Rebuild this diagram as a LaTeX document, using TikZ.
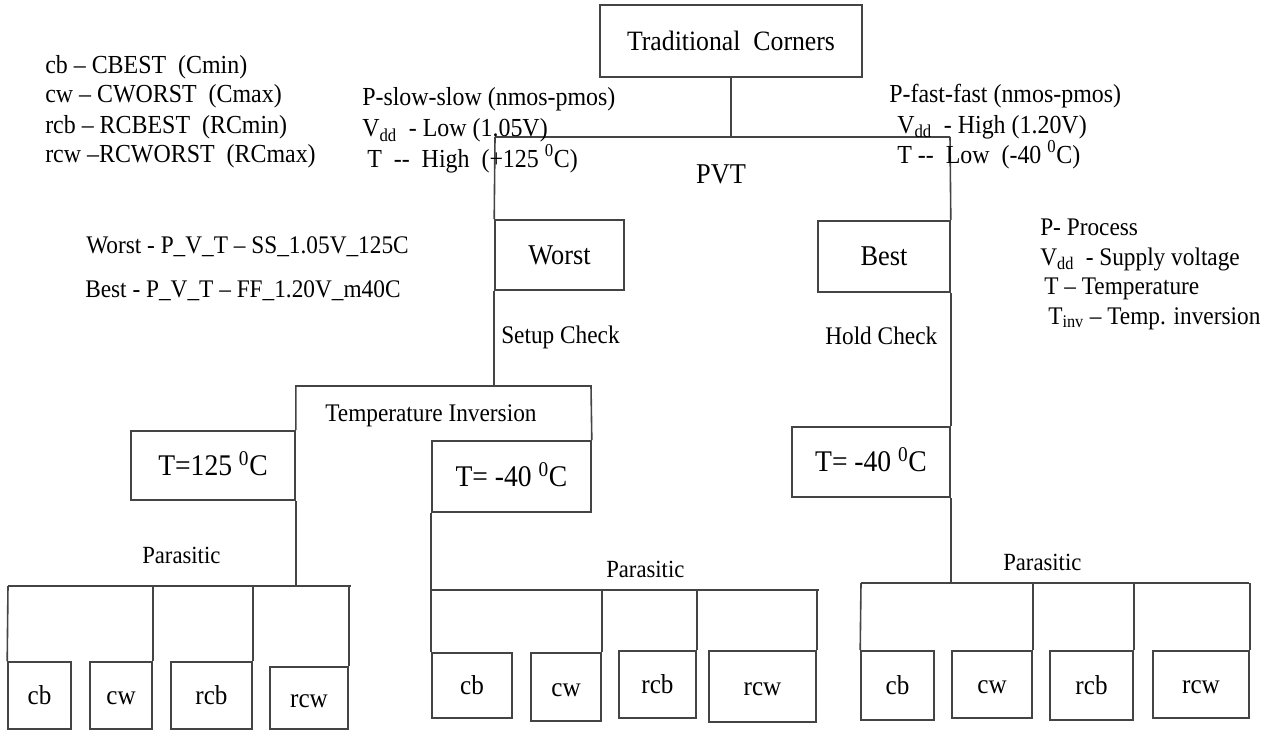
\documentclass[tikz,border=0pt]{standalone}
\usepackage{fontspec}
\setmainfont{Liberation Serif}[FakeStretch=0.92]
\usetikzlibrary{fit}
\definecolor{ln}{HTML}{444444}
\begin{document}
\begin{tikzpicture}[x=0.75pt, y=-0.75pt,
  wire/.style={draw=ln, line width=1.2pt},
  bx/.style={draw=ln, line width=1.2pt, inner sep=0pt, rectangle},
  lbl/.style={inner sep=0pt, text=black},
  boxtext/.style={inner sep=0pt, text=black, text height=#1, text depth=0pt},
  fa/.style={font=\fontsize{18.5}{22}\selectfont},
  fb/.style={font=\fontsize{19}{22}\selectfont},
  fc/.style={font=\fontsize{19.5}{23}\selectfont},
  fd/.style={font=\fontsize{20.5}{24}\selectfont, boxtext=13.6pt},
  fe/.style={font=\fontsize{21.5}{25}\selectfont, boxtext=14.2pt},
  ff/.style={font=\fontsize{22.5}{26}\selectfont, boxtext=14.9pt},
  ft/.style={font=\fontsize{21}{25}\selectfont, boxtext=13.9pt}]
\useasboundingbox[fill=white] (0,0) rectangle (1276,731);
\clip (0,0) rectangle (1276,731);

% ---- boxes (frame fitted to corners, caption centred inside) ----
\node[bx, fit={(600,5) (862,77)}, label={[ft]center:Traditional\ \ Corners}] (tc) {};
\node[bx, fit={(495,220) (624,290)}, label={[fe]center:Worst}] (worst) {};
\node[bx, fit={(818,221) (950,292)}, label={[fe]center:Best}] (best) {};
\node[bx, fit={(131,431) (295,500)}, label={[ff]center:T=125 \textsuperscript{0}C}] (t125) {};
\node[bx, fit={(432,441) (591,512)}, label={[ff]center:T= -40 \textsuperscript{0}C}] (tm40a) {};
\node[bx, fit={(792,427) (950,497)}, label={[ff]center:T= -40 \textsuperscript{0}C}] (tm40b) {};

% parasitic leaves, left group
\node[bx, fit={(8,662) (71,729)}, label={[fd]center:cb}] (cbA) {};
\node[bx, fit={(90,662) (152,729)}, label={[fd]center:cw}] (cwA) {};
\node[bx, fit={(171,662) (252,729)}, label={[fd]center:rcb}] (rcbA) {};
\node[bx, fit={(270,667) (348,729)}, label={[fd]center:rcw}] (rcwA) {};
% middle group
\node[bx, fit={(432,653) (512,718)}, label={[fd]center:cb}] (cbB) {};
\node[bx, fit={(531,653) (601,721)}, label={[fd]center:cw}] (cwB) {};
\node[bx, fit={(619,651) (696,718)}, label={[fd]center:rcb}] (rcbB) {};
\node[bx, fit={(709,651) (816,722)}, label={[fd]center:rcw}] (rcwB) {};
% right group
\node[bx, fit={(861,651) (934,720)}, label={[fd]center:cb}] (cbC) {};
\node[bx, fit={(952,651) (1032,718)}, label={[fd]center:cw}] (cwC) {};
\node[bx, fit={(1050,651) (1133,720)}, label={[fd]center:rcb}] (rcbC) {};
\node[bx, fit={(1153,651) (1249,718)}, label={[fd]center:rcw}] (rcwC) {};

% ---- junctions ----
\coordinate (pvtL) at (495,137);
\coordinate (pvtR) at (950,137);
\coordinate (tiR) at (591,386);
\coordinate (parA0) at (8,586);
\coordinate (parA1) at (351,586);
\coordinate (parB0) at (432,590);
\coordinate (parB1) at (819,590);
\coordinate (parC0) at (861,583);
\coordinate (parC1) at (1249,583);

% ---- connectors ----
\draw[wire] (tc.south) -- (tc.south |- pvtL);
\draw[wire] (pvtL) -- (pvtR);
\draw[wire] (pvtL) -- (worst.north west);
\draw[wire] (worst.south west) -- (worst.south west |- tiR);
\draw[wire] (t125.north east) |- (tiR) -- (tm40a.north east);
\draw[wire] (pvtR) -- (best.north east);
\draw[wire] (best.south east) -- (tm40b.north east);

\draw[wire] (t125.south east) -- (t125.south east |- parA0);
\draw[wire] (parA0) -- (parA1);
\draw[wire] (parA0) -- (cbA.north west);
\draw[wire] (cwA.north east) -- (cwA.north east |- parA0);
\draw[wire] (rcbA.north east) -- (rcbA.north east |- parA0);
\draw[wire] (rcwA.north east) -- (rcwA.north east |- parA0);

\draw[wire] (tm40a.south west) -- (cbB.north west);
\draw[wire] (parB0) -- (parB1);
\draw[wire] (cwB.north east) -- (cwB.north east |- parB0);
\draw[wire] (rcbB.north east) -- (rcbB.north east |- parB0);
\draw[wire] (rcwB.north east) -- (rcwB.north east |- parB0);

\draw[wire] (tm40b.south east) -- (tm40b.south east |- parC0);
\draw[wire] (parC0) -- (parC1);
\draw[wire] (parC0) -- (cbC.north west);
\draw[wire] (cwC.north east) -- (cwC.north east |- parC0);
\draw[wire] (rcbC.north east) -- (rcbC.north east |- parC0);
\draw[wire] (rcwC.north east) -- (rcwC.north east |- parC0);

% ---- branch labels ----
\node[lbl, font=\fontsize{21.5}{25}\selectfont, anchor=base] (pvt) at (721,183) {PVT};
\node[lbl, fb, anchor=base west] (setup) at (501,343) {Setup Check};
\node[lbl, fb, anchor=base west] (hold) at (825,344) {Hold Check};
\node[lbl, fb, anchor=base west] (tinv) at (325,421) {Temperature Inversion};
\node[lbl, fa, anchor=base west] (parA) at (142,563) {Parasitic};
\node[lbl, fa, anchor=base west] (parB) at (606,577) {Parasitic};
\node[lbl, fa, anchor=base west] (parC) at (1003,570) {Parasitic};

% ---- corner conditions ----
\node[lbl, fc, anchor=base west] (ss1) at (362,106) {P-slow-slow (nmos-pmos)};
\node[lbl, fc, anchor=base west] (ss2) at (362,137) {V\textsubscript{dd}\ \ - Low (1.05V)};
\node[lbl, fc, anchor=base west] (ss3) at (367,167) {T\ \ -{}-\ \ High\ \ (+125 \textsuperscript{0}C)};
\node[lbl, fc, anchor=base west] (ff1) at (889,103) {P-fast-fast (nmos-pmos)};
\node[lbl, fc, anchor=base west] (ff2) at (897,133) {V\textsubscript{dd}\ \ - High (1.20V)};
\node[lbl, fc, anchor=base west] (ff3) at (897,163) {T -{}-\ \ Low\ \ (-40 \textsuperscript{0}C)};

% ---- legends ----
\node[lbl, fc, anchor=base west] (lg1) at (45,74) {cb -- CBEST\ \ (Cmin)};
\node[lbl, fc, anchor=base west] (lg2) at (45,103) {cw -- CWORST\ \ (Cmax)};
\node[lbl, fc, anchor=base west] (lg3) at (45,133) {rcb -- RCBEST\ \ (RCmin)};
\node[lbl, fc, anchor=base west] (lg4) at (45,162) {rcw --RCWORST\ \ (RCmax)};

\node[lbl, fb, anchor=base west] (wl) at (86,253) {Worst - P\_V\_T -- SS\_1.05V\_125C};
\node[lbl, fb, anchor=base west] (bl) at (85,297) {Best - P\_V\_T -- FF\_1.20V\_m40C};

\node[lbl, fb, anchor=base west] (k1) at (1040,235) {P- Process};
\node[lbl, fb, anchor=base west] (k2) at (1040,265) {V\textsubscript{dd}\ \ - Supply voltage};
\node[lbl, fb, anchor=base west] (k3) at (1044,294) {T -- Temperature};
\node[lbl, fb, anchor=base west] (k4) at (1048,324) {T\textsubscript{inv} -- Temp. inversion};
\end{tikzpicture}
\end{document}
